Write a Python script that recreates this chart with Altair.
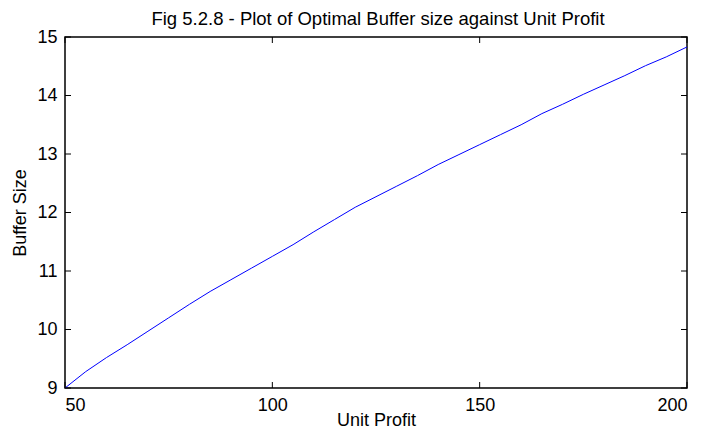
import altair as alt
import pandas as pd

unit_profit = [50, 55, 60, 65, 70, 75, 80, 85, 90, 95, 100, 105, 110, 115, 120, 125,
               130, 135, 140, 145, 150, 155, 160, 165, 170, 175, 180, 185, 190, 195, 200]
buffer_size = [9.00, 9.28, 9.52, 9.74, 9.97, 10.20, 10.43, 10.65, 10.85, 11.05, 11.25,
               11.45, 11.67, 11.88, 12.09, 12.27, 12.45, 12.63, 12.82, 12.99, 13.16,
               13.33, 13.50, 13.69, 13.85, 14.02, 14.18, 14.34, 14.51, 14.66, 14.83]
x_ticks = [50, 100, 150, 200]
y_ticks = [9, 10, 11, 12, 13, 14, 15]
title_text = ["Fig 5.2.8 - Plot of Optimal Buffer size against Unit Profit"]

W, H = 622, 351
FONT = "Liberation Sans"

df = pd.DataFrame({"x": unit_profit, "y": buffer_size})
xt = pd.DataFrame({"x": x_ticks})
yt = pd.DataFrame({"y": y_ticks})
tt = pd.DataFrame({"t": title_text})

xs = alt.Scale(domain=[50, 200], nice=False, zero=False)
ys = alt.Scale(domain=[9, 15], nice=False, zero=False)

line = alt.Chart(df).mark_line(color="#0000ff", strokeWidth=1).encode(
    x=alt.X("x:Q", scale=xs, title="Unit Profit",
            axis=alt.Axis(values=x_ticks, format="d", ticks=False, domain=False, grid=False,
                          labelPadding=8, labelFontSize=18, titleFontSize=18,
                          labelFont=FONT, titleFont=FONT, titleFontWeight="normal",
                          labelColor="black", titleColor="black",
                          titleBaseline="alphabetic", titleY=37)),
    y=alt.Y("y:Q", scale=ys, title="Buffer Size",
            axis=alt.Axis(values=y_ticks, format="d", ticks=False, domain=False, grid=False,
                          labelPadding=8, labelFontSize=18, titleFontSize=18,
                          labelFont=FONT, titleFont=FONT, titleFontWeight="normal",
                          labelColor="black", titleColor="black",
                          titleBaseline="alphabetic", titleX=-40)),
)

xb = alt.Chart(xt).mark_rule(color="black", strokeWidth=1).encode(
    x=alt.X("x:Q", scale=xs), y=alt.value(H), y2=alt.value(H - 6))
xtop = alt.Chart(xt).mark_rule(color="black", strokeWidth=1).encode(
    x=alt.X("x:Q", scale=xs), y=alt.value(0), y2=alt.value(6))
yl = alt.Chart(yt).mark_rule(color="black", strokeWidth=1).encode(
    y=alt.Y("y:Q", scale=ys), x=alt.value(0), x2=alt.value(6))
yr = alt.Chart(yt).mark_rule(color="black", strokeWidth=1).encode(
    y=alt.Y("y:Q", scale=ys), x=alt.value(W), x2=alt.value(W - 6))

title = alt.Chart(tt).mark_text(font=FONT, fontSize=18.5, color="black",
                                 align="center", baseline="alphabetic").encode(
    text="t:N", x=alt.value(W / 2 + 2), y=alt.value(-12))

chart = alt.layer(line, xb, xtop, yl, yr, title).properties(
    width=W, height=H,
    autosize=alt.AutoSizeParams(type="none"),
    padding={"left": 57, "top": 29, "right": 11, "bottom": 44},
).configure(background="white").configure_view(stroke="black", strokeWidth=1.5)

chart.save("out.html", embed_options={"renderer": "svg", "actions": False})
